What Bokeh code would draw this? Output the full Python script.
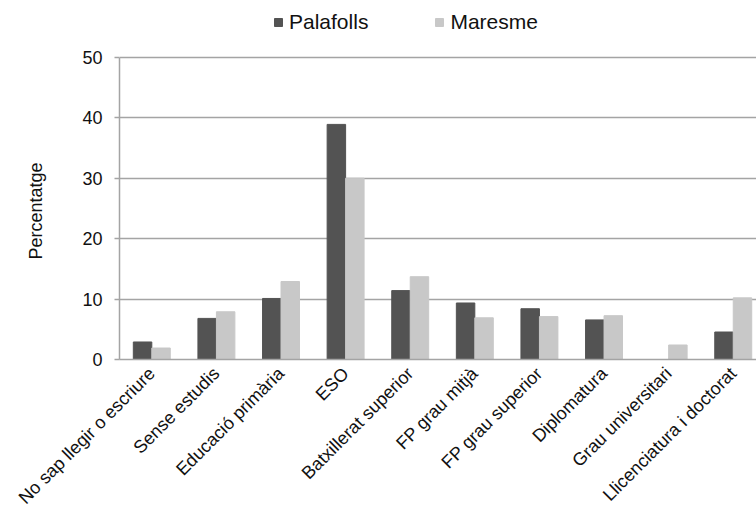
import math
from bokeh.plotting import figure
from bokeh.models import Range1d, Legend, LegendItem, FixedTicker, ColumnDataSource, Title
from bokeh.embed import file_html
from bokeh.resources import INLINE

categories = ["No sap llegir o escriure", "Sense estudis", "Educació primària", "ESO",
              "Batxillerat superior", "FP grau mitjà", "FP grau superior", "Diplomatura",
              "Grau universitari", "Llicenciatura i doctorat"]
palafolls = [2.9, 6.8, 10.1, 38.9, 11.4, 9.35, 8.4, 6.55, 0.0, 4.55]
maresme = [1.9, 7.9, 12.9, 30.0, 13.7, 6.9, 7.1, 7.25, 2.4, 10.2]
y_ticks = [0, 10, 20, 30, 40, 50]
series_names = ["Palafolls", "Maresme"]
y_title = "Percentatge"

FONT = "Liberation Sans"
DARK = "#535353"
LIGHT = "#c8c8c8"
GRID = "#a4a4a4"

pos = [i + 0.5 for i in range(len(categories))]
bw = 0.286
src = ColumnDataSource(dict(
    x1=[p_ - bw / 2 for p_ in pos],
    x2=[p_ + bw / 2 for p_ in pos],
    pal=palafolls, mar=maresme))

# frame spans the full top of the canvas so the legend can sit above the 50 line
p = figure(width=756, height=517, output_backend="svg", toolbar_location=None,
           x_range=Range1d(0, 9.86), y_range=Range1d(0, 59.4),
           min_border_left=119, min_border_right=0, min_border_top=0,
           min_border_bottom=157)
p.outline_line_color = None
p.background_fill_color = "white"

r1 = p.vbar(x="x1", top="pal", width=bw, source=src, fill_color=DARK, line_color=DARK)
r2 = p.vbar(x="x2", top="mar", width=bw, source=src, fill_color=LIGHT, line_color=LIGHT)

p.xgrid.visible = False
p.ygrid.grid_line_color = GRID
p.ygrid.grid_line_width = 1.5
p.yaxis.ticker = FixedTicker(ticks=y_ticks)

ax = p.yaxis[0]
ax.bounds = (0, 50)
ax.axis_line_color = GRID
ax.axis_line_width = 1.5
ax.major_tick_line_color = GRID
ax.major_tick_line_width = 1.5
ax.major_tick_out = 5
ax.major_tick_in = 0
ax.minor_tick_line_color = None
ax.major_label_text_font = FONT
ax.major_label_text_font_size = "18px"
ax.major_label_text_color = "#111111"
ax.major_label_standoff = 12
# spacer between tick labels and the title
ax.axis_label = " "
ax.axis_label_text_font_size = "2px"
ax.axis_label_standoff = 24

ytitle = Title(text=y_title, align="left", offset=100,
               text_font=FONT, text_font_size="18px", text_font_style="normal",
               text_color="#111111")
p.add_layout(ytitle, "left")

xa = p.xaxis[0]
xa.ticker = FixedTicker(ticks=pos)
xa.major_label_overrides = {pos[i]: categories[i] for i in range(len(categories))}
xa.axis_line_color = GRID
xa.axis_line_width = 1.5
xa.major_tick_line_color = None
xa.minor_tick_line_color = None
xa.major_label_orientation = math.pi / 4
xa.major_label_text_font = FONT
xa.major_label_text_font_size = "18px"
xa.major_label_text_color = "#111111"
xa.major_label_standoff = 5

legend = Legend(items=[LegendItem(label=series_names[0], renderers=[r1]),
                       LegendItem(label=series_names[1], renderers=[r2])],
                orientation="horizontal", location=(154, 325),
                label_text_font=FONT, label_text_font_size="21px",
                label_text_color="#111111",
                glyph_width=10, glyph_height=10, label_standoff=6, spacing=66,
                padding=0, margin=0, border_line_alpha=0, background_fill_alpha=0)
p.add_layout(legend)

open("out.html", "w").write(file_html(p, INLINE))
